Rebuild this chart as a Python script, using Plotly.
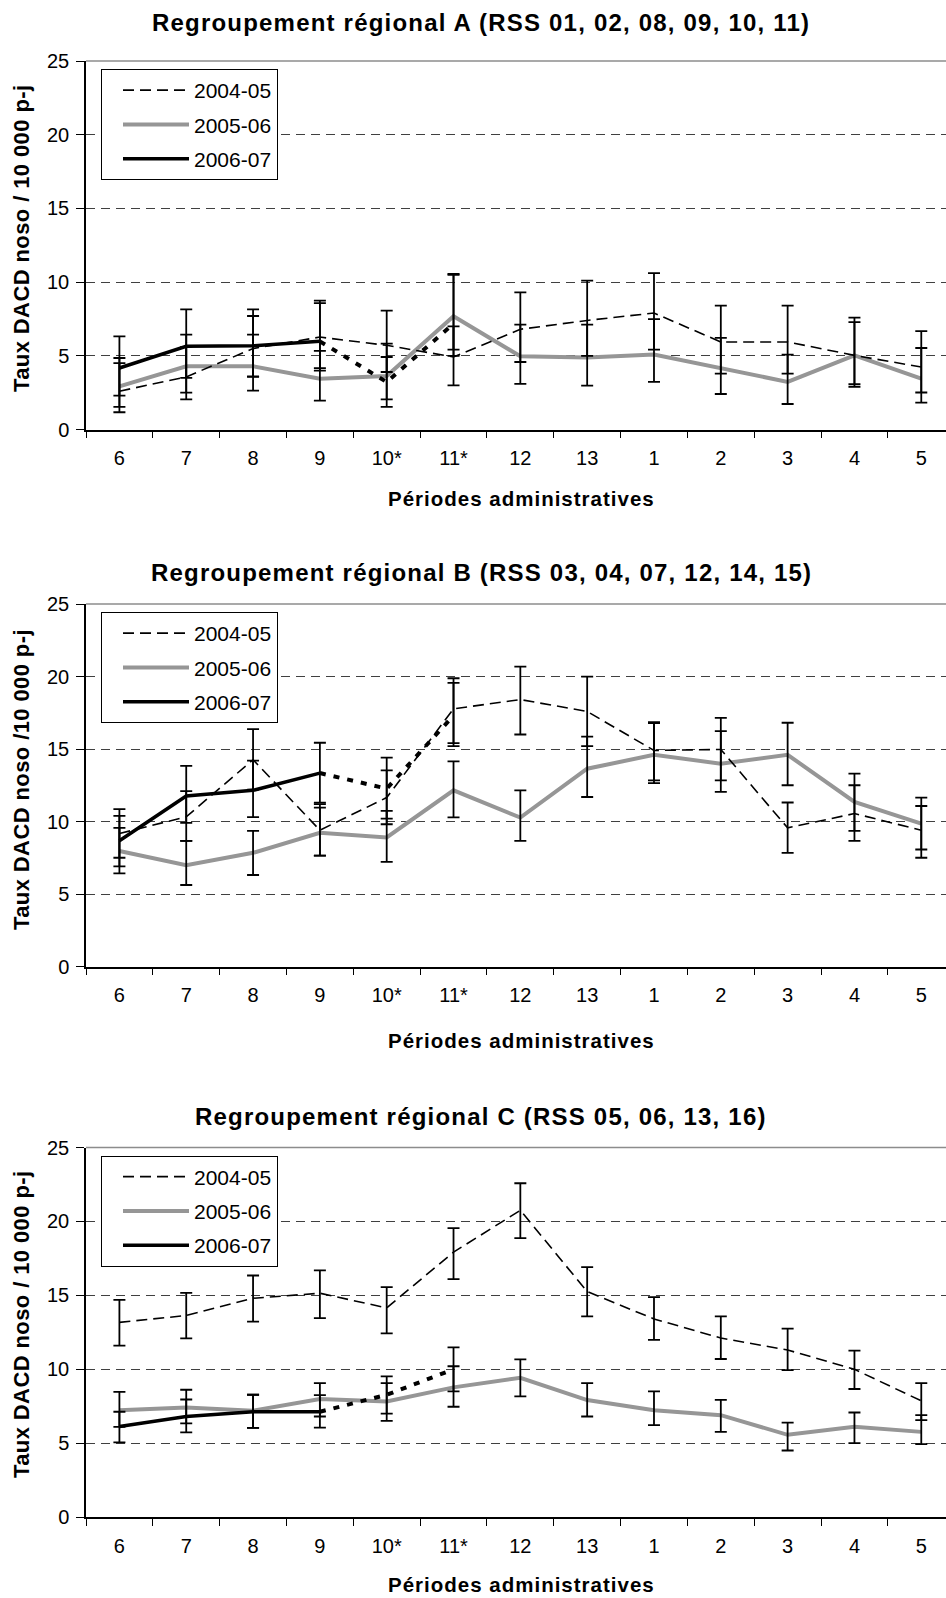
import plotly.graph_objects as go

W, H = 946, 1598
FONT = "Liberation Sans, Arial, sans-serif"

periods = ["6", "7", "8", "9", "10*", "11*", "12", "13", "1", "2", "3", "4", "5"]
series_names = ["2004-05", "2005-06", "2006-07"]

# ---------- Panel A ----------
a_0405 = [2.6, 3.57, 5.49, 6.27, 5.71, 4.92, 6.8, 7.4, 7.9, 5.94, 5.94, 5.03, 4.24]
a_0405_lo = [1.17, 2.05, 3.57, 4.17, 3.9, 3.0, 4.58, 5.0, 5.42, 3.79, 3.79, 3.07, 2.51]
a_0405_hi = [4.5, 5.6, 8.15, 8.74, 8.06, 7.0, 9.3, 10.1, 10.61, 8.4, 8.4, 7.59, 6.68]
a_0506 = [2.93, 4.29, 4.29, 3.45, 3.63, 7.68, 4.97, 4.88, 5.08, 4.13, 3.23, 5.03, 3.45]
a_0506_lo = [1.53, 2.5, 2.64, 1.96, 2.05, 5.42, 3.09, 2.98, 3.23, 2.41, 1.73, 2.89, 1.83]
a_0506_hi = [4.85, 6.43, 6.43, 5.33, 5.83, 10.5, 7.11, 7.11, 7.49, 6.21, 5.08, 7.29, 5.53]
a_0607 = [4.17, 5.64, 5.68, 5.98]
a_0607_lo = [2.3, 3.5, 3.6, 4.0]
a_0607_hi = [6.32, 8.15, 7.7, 8.58]
a_prov = [3.22, 7.18]          # 2006-07, periods 10* and 11*
a_prov_lo = [1.53, 5.0]
a_prov_hi = [4.92, 10.56]

# ---------- Panel B ----------
b_0405 = [9.17, 10.32, 14.26, 9.4, 11.65, 17.77, 18.41, 17.59, 14.9, 14.97, 9.56, 10.55, 9.4]
b_0405_lo = [7.5, 8.67, 12.2, 7.65, 9.81, 15.41, 16.0, 15.2, 12.84, 12.84, 7.84, 8.67, 7.5]
b_0405_hi = [10.39, 12.1, 16.37, 11.2, 13.53, 19.88, 20.68, 19.99, 16.86, 17.15, 11.31, 12.5, 11.07]
b_0506 = [7.96, 6.99, 7.84, 9.22, 8.9, 12.15, 10.27, 13.64, 14.6, 13.99, 14.6, 11.35, 9.86]
b_0506_lo = [6.42, 5.62, 6.31, 7.65, 7.22, 10.28, 8.67, 11.69, 12.65, 12.04, 12.5, 9.35, 8.07]
b_0506_hi = [9.56, 8.67, 9.36, 10.96, 10.73, 14.15, 12.15, 15.86, 16.79, 16.23, 16.81, 13.3, 11.65]
b_0607 = [8.67, 11.76, 12.15, 13.34]
b_0607_lo = [6.9, 9.9, 10.3, 11.3]
b_0607_hi = [10.85, 13.83, 14.2, 15.43]
b_prov = [12.27, 17.3]
b_prov_lo = [10.2, 15.2]
b_prov_hi = [14.4, 19.56]

# ---------- Panel C ----------
c_0405 = [13.17, 13.63, 14.8, 15.14, 14.15, 17.92, 20.75, 15.25, 13.4, 12.11, 11.3, 9.99, 7.86]
c_0405_lo = [11.59, 12.09, 13.22, 13.45, 12.43, 16.09, 18.87, 13.58, 11.98, 10.69, 9.94, 8.66, 6.56]
c_0405_hi = [14.69, 15.17, 16.34, 16.68, 15.55, 19.55, 22.58, 16.9, 14.87, 13.58, 12.75, 11.25, 9.06]
c_0506 = [7.23, 7.41, 7.19, 7.98, 7.82, 8.77, 9.42, 7.91, 7.23, 6.89, 5.56, 6.1, 5.76]
c_0506_lo = [6.1, 6.33, 6.03, 6.8, 6.51, 7.46, 8.16, 6.8, 6.21, 5.76, 4.5, 5.0, 4.93]
c_0506_hi = [8.47, 8.61, 8.27, 9.06, 9.06, 10.2, 10.66, 9.06, 8.5, 7.93, 6.39, 7.07, 6.89]
c_0607 = [6.12, 6.8, 7.12, 7.12]
c_0607_lo = [5.05, 5.72, 6.03, 6.05]
c_0607_hi = [7.12, 7.95, 8.27, 8.25]
c_prov = [8.27, 9.99]
c_prov_lo = [7.0, 8.5]
c_prov_hi = [9.51, 11.48]

titles = [
    "Regroupement régional A (RSS 01, 02, 08, 09, 10, 11)",
    "Regroupement régional B (RSS 03, 04, 07, 12, 14, 15)",
    "Regroupement régional C (RSS 05, 06, 13, 16)",
]
ytitles = [
    "Taux DACD noso / 10 000 p-j",
    "Taux DACD noso /10 000 p-j",
    "Taux DACD noso / 10 000 p-j",
]
xtitle = "Périodes administratives"
yticks = [0, 5, 10, 15, 20, 25]

panels = [
    (a_0405, a_0405_lo, a_0405_hi, a_0506, a_0506_lo, a_0506_hi,
     a_0607, a_0607_lo, a_0607_hi, a_prov, a_prov_lo, a_prov_hi),
    (b_0405, b_0405_lo, b_0405_hi, b_0506, b_0506_lo, b_0506_hi,
     b_0607, b_0607_lo, b_0607_hi, b_prov, b_prov_lo, b_prov_hi),
    (c_0405, c_0405_lo, c_0405_hi, c_0506, c_0506_lo, c_0506_hi,
     c_0607, c_0607_lo, c_0607_hi, c_prov, c_prov_lo, c_prov_hi),
]

# pixel layout of each panel: (top of plot, bottom of plot, title y, ytitle center y, xtitle y)
geom = [
    (61, 429.5, 23, 239, 498),
    (604, 966.5, 572, 780, 1040),
    (1147.5, 1517, 1116, 1325, 1584),
]
X_LEFT = 86

fig = go.Figure()


def err(vals, lo, hi):
    plus = [h - v for v, h in zip(vals, hi)]
    minus = [v - l for v, l in zip(vals, lo)]
    return plus, minus


def spaced(txt, sp):
    return f'<span style="letter-spacing:{sp}px">{txt}</span>'


GRAY = "#969696"
for i, p in enumerate(panels):
    (v45, l45, h45, v56, l56, h56, v67, l67, h67, vp, lp, hp) = p
    xa = "x" if i == 0 else f"x{i+1}"
    ya = "y" if i == 0 else f"y{i+1}"
    lg = "legend" if i == 0 else f"legend{i+1}"
    n67 = len(v67)
    # lines
    fig.add_trace(go.Scatter(x=periods, y=v56, mode="lines", name=series_names[1],
                             line=dict(color=GRAY, width=4), xaxis=xa, yaxis=ya,
                             legend=lg, legendrank=2, legendgroup=f"{i}b",
                             hoverinfo="skip"))
    fig.add_trace(go.Scatter(x=periods, y=v45, mode="lines", name=series_names[0],
                             line=dict(color="black", width=1.6, dash="11px,6px"),
                             xaxis=xa, yaxis=ya, legend=lg, legendrank=1,
                             legendgroup=f"{i}a", hoverinfo="skip"))
    fig.add_trace(go.Scatter(x=periods[:n67], y=v67, mode="lines", name=series_names[2],
                             line=dict(color="black", width=3.5), xaxis=xa, yaxis=ya,
                             legend=lg, legendrank=3, legendgroup=f"{i}c",
                             hoverinfo="skip"))
    fig.add_trace(go.Scatter(x=periods[n67 - 1:n67 + len(vp)], y=[v67[-1]] + vp, mode="lines",
                             line=dict(color="black", width=4, dash="6px,8px"),
                             xaxis=xa, yaxis=ya, showlegend=False, hoverinfo="skip"))
    # error bars (black, drawn over the lines)
    for xs, vals, lo, hi in [
        (periods, v45, l45, h45),
        (periods, v56, l56, h56),
        (periods[:n67], v67, l67, h67),
        (periods[n67:n67 + len(vp)], vp, lp, hp),
    ]:
        plus, minus = err(vals, lo, hi)
        fig.add_trace(go.Scatter(
            x=xs, y=vals, mode="markers",
            marker=dict(size=1, color="rgba(0,0,0,0)"),
            error_y=dict(type="data", symmetric=False, array=plus, arrayminus=minus,
                         color="black", thickness=1.8, width=6),
            xaxis=xa, yaxis=ya, showlegend=False, hoverinfo="skip"))

    top, bot, ty, yty, xty = geom[i]
    dom = [1 - bot / H, 1 - top / H]
    axx = dict(domain=[X_LEFT / W, 1], range=[-0.5, 12.37], type="category",
               categoryorder="array", categoryarray=periods,
               showline=True, linecolor="black", linewidth=1.5,
               ticks="outside", tickson="boundaries", ticklen=7, tickcolor="black",
               tickwidth=1.2, showgrid=False, zeroline=False, automargin=False,
               tickfont=dict(family=FONT, size=20, color="black"),
               ticklabelstandoff=10, anchor=ya, fixedrange=True)
    axy = dict(domain=dom, range=[0, 25], tickvals=yticks, showline=True,
               linecolor="black", linewidth=1.5, ticks="outside", ticklen=8,
               tickcolor="black", tickwidth=1.2, showgrid=True, gridcolor="#404040",
               gridwidth=1, griddash="9px,6px", zeroline=False, automargin=False,
               tickfont=dict(family=FONT, size=20, color="black"),
               ticklabelstandoff=3, anchor=xa, fixedrange=True)
    kx = "xaxis" if i == 0 else f"xaxis{i+1}"
    ky = "yaxis" if i == 0 else f"yaxis{i+1}"
    fig.update_layout({kx: axx, ky: axy})

    # legend for this panel
    leg = dict(x=101 / W, y=1 - (top + 8) / H, xanchor="left", yanchor="top",
               bgcolor="white", bordercolor="black", borderwidth=1,
               font=dict(family=FONT, size=21, color="black"),
               itemwidth=66, indentation=16, tracegroupgap=4, traceorder="grouped")
    fig.update_layout({lg: leg})

    # top border of plot area
    fig.add_shape(type="line", xref=f"{xa} domain", yref=f"{ya} domain",
                  x0=0, x1=1, y0=1, y1=1, line=dict(color="#8c8c8c", width=1.5))

    # titles
    fig.add_annotation(text=spaced(f"<b>{titles[i]}</b>", 1.2), xref="paper", yref="paper",
                       x=481 / W, y=1 - ty / H, xanchor="center", yanchor="middle",
                       showarrow=False, font=dict(family=FONT, size=24, color="black"))
    fig.add_annotation(text=spaced(f"<b>{ytitles[i]}</b>", 0.4), xref="paper", yref="paper",
                       x=21 / W, y=1 - yty / H, xanchor="center", yanchor="middle",
                       textangle=-90, showarrow=False,
                       font=dict(family=FONT, size=22, color="black"))
    fig.add_annotation(text=spaced(f"<b>{xtitle}</b>", 1.0), xref="paper", yref="paper",
                       x=521 / W, y=1 - xty / H, xanchor="center", yanchor="middle",
                       showarrow=False, font=dict(family=FONT, size=20.5, color="black"))

fig.update_layout(template="none", width=W, height=H,
                  margin=dict(l=0, r=0, t=0, b=0, autoexpand=False),
                  paper_bgcolor="white", plot_bgcolor="white",
                  font=dict(family=FONT, color="black"))

fig.write_html("out.html", config={"displayModeBar": False})
